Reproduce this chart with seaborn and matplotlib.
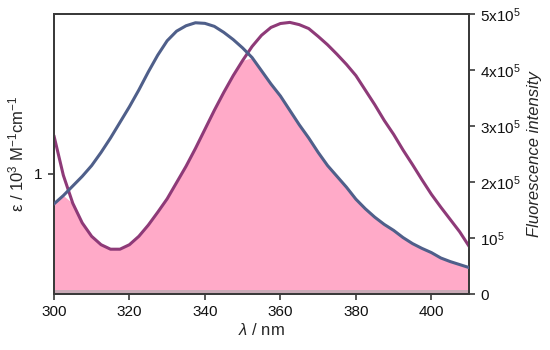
import matplotlib
matplotlib.use("Agg")
import matplotlib.pyplot as plt
import numpy as np
import pandas as pd
import seaborn as sns

sns.set_theme(style="ticks")
plt.rcParams["font.family"] = ["Liberation Sans", "DejaVu Sans"]
plt.rcParams["mathtext.fontset"] = "custom"
plt.rcParams["mathtext.rm"] = "Liberation Sans"
plt.rcParams["mathtext.it"] = "Liberation Sans:italic"

# wavelength grid (nm), 300 ... 410 in 2.5 nm steps
wavelength = [300.0, 302.5, 305.0, 307.5, 310.0, 312.5, 315.0, 317.5, 320.0, 322.5,
              325.0, 327.5, 330.0, 332.5, 335.0, 337.5, 340.0, 342.5, 345.0, 347.5,
              350.0, 352.5, 355.0, 357.5, 360.0, 362.5, 365.0, 367.5, 370.0, 372.5,
              375.0, 377.5, 380.0, 382.5, 385.0, 387.5, 390.0, 392.5, 395.0, 397.5,
              400.0, 402.5, 405.0, 407.5, 410.0]
# absorption, epsilon / 10^3 M^-1 cm^-1
absorption = [0.75, 0.82, 0.90, 0.98, 1.07, 1.18, 1.30, 1.43, 1.56, 1.70,
              1.85, 1.99, 2.11, 2.19, 2.235, 2.26, 2.255, 2.23, 2.18, 2.12,
              2.05, 1.97, 1.86, 1.75, 1.65, 1.53, 1.41, 1.30, 1.18, 1.07,
              0.98, 0.89, 0.79, 0.71, 0.64, 0.58, 0.53, 0.47, 0.42, 0.38,
              0.345, 0.30, 0.27, 0.245, 0.22]
# fluorescence intensity (x 10^5)
emission = [2.83, 2.12, 1.62, 1.27, 1.03, 0.88, 0.80, 0.80, 0.88, 1.03,
            1.23, 1.46, 1.70, 1.99, 2.28, 2.60, 2.94, 3.28, 3.60, 3.90,
            4.17, 4.42, 4.62, 4.76, 4.83, 4.85, 4.81, 4.74, 4.60, 4.45,
            4.28, 4.10, 3.90, 3.64, 3.38, 3.10, 2.85, 2.57, 2.31, 2.04,
            1.78, 1.55, 1.33, 1.11, 0.85]

x_ticks = [300, 320, 340, 360, 380, 400]
right_ticks = [0, 1e5, 2e5, 3e5, 4e5, 5e5]
right_labels = ["0", r"$10^5$", r"$2\mathregular{x}10^5$", r"$3\mathregular{x}10^5$",
                r"$4\mathregular{x}10^5$", r"$5\mathregular{x}10^5$"]

df = pd.DataFrame({"wavelength": wavelength,
                   "absorption": absorption,
                   "emission": np.array(emission) * 1e5})

left_max = 2.333
right_max = 5e5
scale = right_max / left_max

blue = "#4f5f8a"
purple = "#8e3a78"
pink = "#ffaac8"
spine = "#3a3a3a"
fs = 11

fig = plt.figure(figsize=(5.5, 3.5), dpi=100)
ax = fig.add_axes([0.098, 0.16, 0.755, 0.80])
ax2 = ax.twinx()

# overlap region of the two spectra
overlap = np.minimum(df["emission"], df["absorption"] * scale)
ax2.fill_between(df["wavelength"], 0, overlap, color=pink, lw=0, zorder=1)
ax2.fill_between(df["wavelength"], 0, 0.07e5, color="#c9aab6", lw=0, zorder=1)

sns.lineplot(data=df, x="wavelength", y="emission", ax=ax2, color=purple, lw=2.2, zorder=3)
sns.lineplot(data=df, x="wavelength", y="absorption", ax=ax, color=blue, lw=2.2, zorder=3)
ax.set_zorder(ax2.get_zorder() + 1)
ax.patch.set_visible(False)

ax.set_xlim(300, 410)
ax.set_ylim(0, left_max)
ax2.set_ylim(0, right_max)

ax.set_xticks(x_ticks)
ax.set_yticks([1])
ax.set_yticklabels(["1"])
ax2.set_yticks(right_ticks)
ax2.set_yticklabels(right_labels)

ax.set_xlabel(r"$\mathit{\lambda}$ / nm", fontsize=fs + 1, labelpad=2)
ax.set_ylabel(r"ε / 10$^3$ M$^{-1}$cm$^{-1}$", fontsize=fs + 1, labelpad=6)
ax2.set_ylabel("Fluorescence intensity", fontsize=fs + 1, style="italic", labelpad=4)

for a in (ax, ax2):
    a.tick_params(direction="out", length=4, width=1.2, color=spine,
                  labelsize=fs, labelcolor="#111111", pad=4)
    for s in a.spines.values():
        s.set_visible(True)
        s.set_color(spine)
        s.set_linewidth(1.3)

plt.savefig("out.png", dpi=100)
